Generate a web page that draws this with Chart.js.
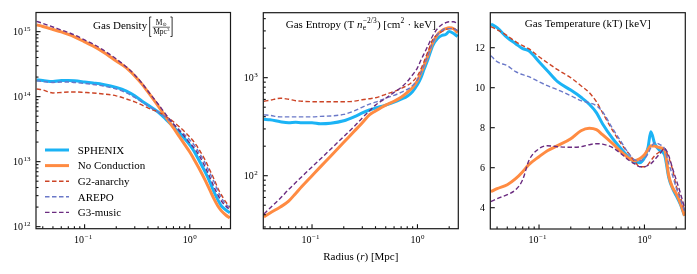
<!DOCTYPE html>
<html><head><meta charset="utf-8">
<script src="https://cdn.jsdelivr.net/npm/chart.js@4/dist/chart.umd.min.js"></script>
<style>
html,body{margin:0;padding:0;background:#fff;overflow:hidden}
#wrap{position:relative;width:697px;height:274px}
canvas{position:absolute;left:0;top:0}
</style></head>
<body><div id="wrap">
<canvas id="c1" width="697" height="274"></canvas>
<canvas id="c2" width="697" height="274"></canvas>
<canvas id="c3" width="697" height="274"></canvas>
</div>
<script>
// ---------- data ----------
const radius = [0.035,0.04,0.05,0.06,0.07,0.08,0.1,0.12,0.15,0.2,0.25,0.3,0.35,0.4,0.5,0.6,0.7,0.8,0.9,1.0,1.08,1.15,1.25,1.4,1.55,1.7,1.85,2.0,2.2,2.4];
const seriesNames = ['SPHENIX','No Conduction','G2-anarchy','AREPO','G3-music'];

const densitySphenix = [1.81e14,1.77e14,1.71e14,1.77e14,1.77e14,1.75e14,1.68e14,1.62e14,1.54e14,1.39e14,1.22e14,1.03e14,8.6e13,7.45e13,5.8e13,4.4e13,3.42e13,2.77e13,2.23e13,1.81e13,1.51e13,1.27e13,9.9e12,6.95e12,4.9e12,3.42e12,2.58e12,2.08e12,1.81e12,1.63e12];
const densityNoConduction = [1.27e15,1.20e15,1.08e15,9.9e14,9.06e14,8.3e14,6.95e14,6.03e14,4.87e14,3.54e14,2.77e14,2.08e14,1.57e14,1.18e14,7.2e13,4.7e13,3.3e13,2.4e13,1.81e13,1.41e13,1.14e13,9.5e12,7.45e12,5.2e12,3.67e12,2.67e12,2.08e12,1.75e12,1.51e12,1.36e12];
const densityG2 = [1.31e14,1.27e14,1.14e14,1.16e14,1.18e14,1.18e14,1.16e14,1.14e14,1.10e14,1.03e14,9.2e13,8.3e13,7.45e13,6.7e13,5.8e13,4.9e13,4.1e13,3.42e13,2.86e13,2.4e13,2.08e13,1.81e13,1.46e13,1.06e13,7.45e12,5.4e12,3.9e12,3.08e12,2.4e12,2.01e12];
const densityArepo = [1.75e14,1.71e14,1.65e14,1.68e14,1.68e14,1.65e14,1.60e14,1.54e14,1.46e14,1.31e14,1.14e14,9.7e13,8.3e13,7.2e13,5.8e13,4.7e13,3.8e13,3.08e13,2.58e13,2.16e13,1.87e13,1.63e13,1.31e13,9.5e12,6.7e12,4.9e12,3.54e12,2.77e12,2.23e12,1.94e12];
const densityG3 = [1.44e15,1.34e15,1.18e15,1.06e15,9.7e14,8.9e14,7.45e14,6.47e14,5.23e14,3.8e14,2.86e14,2.16e14,1.62e14,1.22e14,7.7e13,5.2e13,3.8e13,2.97e13,2.4e13,1.94e13,1.68e13,1.46e13,1.18e13,8.3e12,5.8e12,4.1e12,3.08e12,2.48e12,2.08e12,1.81e12];

const entropySphenix = [376,372,355,347,351,347,347,339,343,363,398,437,468,490,525,562,603,646,724,851,1000,1202,1514,2138,2512,2692,2754,2951,2818,2630];
const entropyNoConduction = [38,41.7,47.9,55,66,77.6,100,123,158,219,282,347,417,457,525,575,631,708,794,933,1122,1318,1660,2291,2754,3020,3162,3236,3162,2884];
const entropyG2 = [575,589,617,603,582,575,569,569,569,569,575,596,610,624,676,724,776,832,912,1047,1230,1445,1820,2455,2754,2951,3090,3162,3162,3020];
const entropyArepo = [417,412,398,398,398,398,398,403,407,422,457,501,537,562,617,661,708,759,832,955,1122,1318,1660,2291,2754,3020,3162,3162,3162,3020];
const entropyG3 = [40.7,46.8,58.9,72.4,85.1,97.7,123,148,186,251,316,389,457,525,617,708,794,912,1072,1259,1514,1738,2089,2692,3162,3467,3631,3715,3715,3548];

const temperatureSphenix = [13.19,13.0,12.5,12.2,11.95,11.85,11.3,10.85,10.3,9.88,9.52,9.17,8.75,8.2,7.45,6.95,6.55,6.3,6.25,6.5,7.0,7.8,7.2,6.85,6.65,5.5,4.95,4.6,4.15,3.6];
const temperatureNoConduction = [4.8,4.95,5.15,5.45,5.8,6.15,6.55,6.85,7.1,7.45,7.85,7.97,7.9,7.65,7.2,6.8,6.5,6.35,6.45,6.65,6.9,7.1,7.08,7.0,6.9,5.6,5.0,4.7,4.2,3.6];
const temperatureG2 = [13.05,12.9,12.6,12.3,12.1,11.95,11.55,11.25,10.9,10.5,10.1,9.75,9.3,8.75,7.85,7.2,6.75,6.35,6.05,6.05,6.15,6.35,6.6,6.8,6.95,6.5,5.9,5.1,4.5,3.85];
const temperatureArepo = [11.6,11.3,11.1,10.8,10.65,10.55,10.3,10.1,9.9,9.6,9.35,9.25,9.1,8.8,7.95,7.3,6.75,6.4,6.35,6.45,6.7,7.0,7.25,7.15,6.95,6.2,5.6,5.0,4.4,3.85];
const temperatureG3 = [4.3,4.45,4.65,4.9,5.4,6.35,6.95,7.1,7.05,7.02,7.05,7.15,7.2,7.18,7.0,6.7,6.4,6.2,6.05,6.05,6.12,6.2,6.4,6.7,6.95,6.6,5.95,5.4,4.7,4.0];

const xMajorTicks = [0.1, 1];
const xTickLabels = ['\u22121', '0'];
const densityMajorTicks = [1e12, 1e13, 1e14, 1e15];
const densityTickLabels = ['12', '13', '14', '15'];
const entropyMajorTicks = [1e2, 1e3];
const entropyTickLabels = ['2', '3'];
const temperatureTicks = [4, 6, 8, 10, 12];
const temperatureTickLabels = ['4', '6', '8', '10', '12'];

// ---------- styles ----------
const lineStyles = [
  {color:'#1bb3f5', width:3, dash:[]},
  {color:'#ff8b42', width:3, dash:[]},
  {color:'#cc4426', width:1.4, dash:[4.5,2.5]},
  {color:'#6a78c8', width:1.4, dash:[4.5,2.5]},
  {color:'#6b2c80', width:1.4, dash:[4.5,2.5]}
];
const FF = '"Liberation Serif","Times New Roman",serif';
function font(sz, it){ return (it ? 'italic ' : '') + sz + 'px ' + FF; }

function datasetsFrom(arrays){
  return arrays.map((vals, i) => ({
    label: seriesNames[i],
    data: radius.map((r, k) => ({x: r, y: vals[k]})),
    borderColor: lineStyles[i].color,
    borderWidth: lineStyles[i].width,
    borderDash: lineStyles[i].dash,
    pointRadius: 0,
    fill: false,
    cubicInterpolationMode: 'monotone',
    order: 4 - i
  }));
}

function drawRuns(ctx, parts, cx, yb){
  const widths = parts.map(p => {
    if (p.stack) return Math.max(...p.stack.map(q => { ctx.font = font(q.s, q.it); return ctx.measureText(q.t).width; })) + 0.6;
    ctx.font = font(p.s, p.it); return ctx.measureText(p.t).width + (p.dy ? 0.5 : 0);
  });
  let x = cx - widths.reduce((a, b) => a + b, 0) / 2;
  ctx.textAlign = 'left'; ctx.textBaseline = 'alphabetic'; ctx.fillStyle = '#000';
  parts.forEach((p, i) => {
    if (p.stack) p.stack.forEach(q => { ctx.font = font(q.s, q.it); ctx.fillText(q.t, x + 0.4, yb + q.dy); });
    else { ctx.font = font(p.s, p.it); ctx.fillText(p.t, x, yb + (p.dy || 0)); }
    x += widths[i];
  });
}

function sciLabel(ctx, exp, x, yc, align){
  ctx.font = font(10); const wb = ctx.measureText('10').width;
  ctx.font = font(7); const we = ctx.measureText(exp).width;
  const tot = wb + we + 0.6;
  const x0 = align === 'right' ? x - tot : x - tot / 2;
  ctx.textAlign = 'left'; ctx.textBaseline = 'alphabetic'; ctx.fillStyle = '#000';
  ctx.font = font(10); ctx.fillText('10', x0, yc + 3.4);
  ctx.font = font(7); ctx.fillText(exp, x0 + wb + 0.6, yc - 0.6);
}

function logMinor(min, max){
  const out = [];
  for (let n = Math.floor(Math.log10(min)); n <= Math.ceil(Math.log10(max)); n++)
    for (let m = 1; m <= 9; m++){ const v = m * Math.pow(10, n); if (v >= min && v <= max) out.push({v, major: m === 1}); }
  return out;
}

function framePlugin(extra){
  return {
    id: 'frame',
    afterDraw(chart){
      const ctx = chart.ctx, a = chart.chartArea, xs = chart.scales.x, ys = chart.scales.y;
      ctx.save();
      ctx.strokeStyle = '#111'; ctx.lineWidth = 1.1;
      // x ticks (inward from bottom)
      logMinor(xs.min, xs.max).forEach(t => {
        const px = xs.getPixelForValue(t.v);
        if (px < a.left + 0.5 || px > a.right - 0.5) return;
        ctx.beginPath(); ctx.moveTo(px, a.bottom); ctx.lineTo(px, a.bottom - (t.major ? 4.5 : 2.5)); ctx.stroke();
      });
      // y ticks (inward from left)
      if (ys.type === 'logarithmic'){
        logMinor(ys.min, ys.max).forEach(t => {
          const py = ys.getPixelForValue(t.v);
          if (py < a.top + 0.5 || py > a.bottom - 0.5) return;
          ctx.beginPath(); ctx.moveTo(a.left, py); ctx.lineTo(a.left + (t.major ? 4.5 : 2.5), py); ctx.stroke();
        });
      } else {
        temperatureTicks.forEach(v => {
          const py = ys.getPixelForValue(v);
          ctx.beginPath(); ctx.moveTo(a.left, py); ctx.lineTo(a.left + 4.5, py); ctx.stroke();
        });
      }
      ctx.lineWidth = 1.2; ctx.strokeStyle = '#1a1a1a';
      ctx.strokeRect(a.left, a.top, a.right - a.left, a.bottom - a.top);
      // x tick labels
      xMajorTicks.forEach((v, i) => sciLabel(ctx, xTickLabels[i], xs.getPixelForValue(v) - (i === 0 ? 1.5 : 0), 239.3, 'center'));
      extra(ctx, chart, a, xs, ys);
      ctx.restore();
    }
  };
}

function makePanel(id, area, yCfg, arrays, extra){
  return new Chart(document.getElementById(id), {
    type: 'line',
    data: { datasets: datasetsFrom(arrays) },
    options: {
      responsive: false, animation: false, devicePixelRatio: 1, events: [],
      layout: { padding: { left: area.l, right: 697 - area.r, top: area.t, bottom: 274 - area.b } },
      plugins: { legend: { display: false }, title: { display: false }, tooltip: { enabled: false } },
      scales: {
        x: { type: 'logarithmic', min: 0.0345, max: 2.44, display: false },
        y: Object.assign({ display: false }, yCfg)
      }
    },
    plugins: [framePlugin(extra)]
  });
}

// Panel 1: density
makePanel('c1', {l:36, r:230.5, t:12.5, b:228.7}, {type:'logarithmic', min:9.3e11, max:1.97e15},
  [densitySphenix, densityNoConduction, densityG2, densityArepo, densityG3],
  (ctx, chart, a, xs, ys) => {
    densityMajorTicks.forEach((v, i) => sciLabel(ctx, densityTickLabels[i], a.left - 5.5, ys.getPixelForValue(v), 'right'));
    // title with fraction
    ctx.font = font(11); const w1 = ctx.measureText('Gas Density').width;
    ctx.font = font(7.5); const wM = ctx.measureText('M').width;
    ctx.font = '5px "DejaVu Sans"'; const wO = ctx.measureText('\u2299').width;
    ctx.font = font(7.5); const wD = ctx.measureText('Mpc').width;
    ctx.font = font(5); const w3 = ctx.measureText('3').width;
    const wf = Math.max(wM + wO, wD + w3) + 1;
    const total = w1 + 3 + 3 + wf + 3;
    let x = (a.left + a.right) / 2 - total / 2;
    ctx.fillStyle = '#000'; ctx.textAlign = 'left'; ctx.textBaseline = 'alphabetic';
    ctx.font = font(11); ctx.fillText('Gas Density', x, 28.5); x += w1 + 2;
    ctx.strokeStyle = '#000'; ctx.lineWidth = 0.8;
    ctx.beginPath(); ctx.moveTo(x + 2.2, 17); ctx.lineTo(x + 0.5, 17); ctx.lineTo(x + 0.5, 36.5); ctx.lineTo(x + 2.2, 36.5); ctx.stroke();
    x += 3.5;
    const fx = x;
    ctx.font = font(7.5); ctx.fillText('M', fx + (wf - wM - wO) / 2, 25);
    ctx.font = '5px "DejaVu Sans"'; ctx.fillText('\u2299', fx + (wf - wM - wO) / 2 + wM, 26);
    ctx.lineWidth = 0.6; ctx.beginPath(); ctx.moveTo(fx, 27.2); ctx.lineTo(fx + wf, 27.2); ctx.stroke();
    ctx.font = font(7.5); ctx.fillText('Mpc', fx + (wf - wD - w3) / 2, 34);
    ctx.font = font(5); ctx.fillText('3', fx + (wf - wD - w3) / 2 + wD, 31);
    x += wf + 0.5;
    ctx.lineWidth = 0.8;
    ctx.beginPath(); ctx.moveTo(x, 17); ctx.lineTo(x + 1.7, 17); ctx.lineTo(x + 1.7, 36.5); ctx.lineTo(x, 36.5); ctx.stroke();
    // legend
    const rows = [150, 165.6, 181.2, 196.8, 212.4];
    chart.data.datasets.forEach((ds, i) => {
      ctx.save();
      ctx.strokeStyle = ds.borderColor; ctx.lineWidth = ds.borderWidth; ctx.setLineDash(ds.borderDash);
      ctx.beginPath(); ctx.moveTo(45, rows[i]); ctx.lineTo(69, rows[i]); ctx.stroke();
      ctx.restore();
      ctx.fillStyle = '#000'; ctx.font = font(11); ctx.textAlign = 'left'; ctx.textBaseline = 'alphabetic';
      ctx.fillText(ds.label, 77.7, rows[i] + 3.8);
    });
  });

// Panel 2: entropy
makePanel('c2', {l:263.3, r:458.3, t:12.7, b:228.7}, {type:'logarithmic', min:28.8, max:4600},
  [entropySphenix, entropyNoConduction, entropyG2, entropyArepo, entropyG3],
  (ctx, chart, a, xs, ys) => {
    entropyMajorTicks.forEach((v, i) => sciLabel(ctx, entropyTickLabels[i], a.left - 5.5, ys.getPixelForValue(v), 'right'));
    drawRuns(ctx, [
      {t:'Gas Entropy (T ', s:11},
      {t:'n', s:11, it:true},
      {stack:[{t:'e', s:7.5, dy:2.5}, {t:'\u22122/3', s:7.5, dy:-4.5}]},
      {t:') [cm', s:11},
      {t:'2', s:7.5, dy:-4.5},
      {t:' \u00b7 keV]', s:11}
    ], (a.left + a.right) / 2, 27.5);
    drawRuns(ctx, [
      {t:'Radius (', s:11}, {t:'r', s:11, it:true}, {t:') [Mpc]', s:11}
    ], (a.left + a.right) / 2, 259.6);
  });

// Panel 3: temperature
makePanel('c3', {l:490.3, r:685.3, t:12.7, b:229}, {type:'linear', min:2.935, max:13.75},
  [temperatureSphenix, temperatureNoConduction, temperatureG2, temperatureArepo, temperatureG3],
  (ctx, chart, a, xs, ys) => {
    ctx.fillStyle = '#000'; ctx.font = font(10); ctx.textAlign = 'right'; ctx.textBaseline = 'alphabetic';
    temperatureTicks.forEach((v, i) => ctx.fillText(temperatureTickLabels[i], a.left - 5.3, ys.getPixelForValue(v) + 3.4));
    drawRuns(ctx, [{t:'Gas Temperature (kT) [keV]', s:11}], (a.left + a.right) / 2, 27);
  });
</script>
</body></html>
